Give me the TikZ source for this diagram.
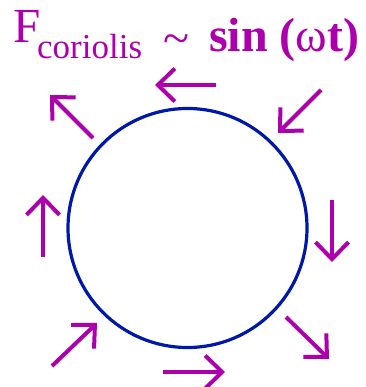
\documentclass[tikz,border=0pt]{standalone}
\usepackage{fontspec}
\setmainfont{Liberation Serif}
\usetikzlibrary{arrows.meta}
\definecolor{vio}{RGB}{172,0,172}
\definecolor{ringblue}{RGB}{0,24,168}
\begin{document}
\begin{tikzpicture}[x=1pt,y=-1pt,
  force/.style={vio,line width=4pt,-{Straight Barb[length=17pt,width=33pt]}},
  ttl/.style={vio,inner sep=0pt,anchor=base west}]
\useasboundingbox (0,0) rectangle (365,387);
\draw[ringblue,line width=3.2pt] (187.5,228) circle (119.5);
% title
\node[ttl,font=\fontsize{49}{49}\selectfont] (F) at (13,43) {F};
\node[ttl,font=\fontsize{35}{35}\selectfont] (sub) at (37,59) {coriolis};
\node[ttl,font=\fontsize{48}{48}\selectfont] (tl) at (163,55) {\char"007E};
\node[ttl,font=\fontsize{48}{48}\selectfont\bfseries] (sin) at (209,52) {sin (\textmd{ω}t)};
% arrows
\coordinate (a1) at (216,85);  \coordinate (b1) at (155,85);
\coordinate (a2) at (321,90);  \coordinate (b2) at (278,133);
\coordinate (a3) at (93,138);  \coordinate (b3) at (50,95);
\coordinate (a4) at (43,257);  \coordinate (b4) at (43,195);
\coordinate (a5) at (332,200); \coordinate (b5) at (332,262);
\coordinate (a6) at (52,366);  \coordinate (b6) at (97,323);
\coordinate (a7) at (163,372); \coordinate (b7) at (225,372);
\coordinate (a8) at (286,317); \coordinate (b8) at (329,359);
\foreach \i in {1,...,8} \draw[force] (a\i) -- (b\i);
\end{tikzpicture}
\end{document}
